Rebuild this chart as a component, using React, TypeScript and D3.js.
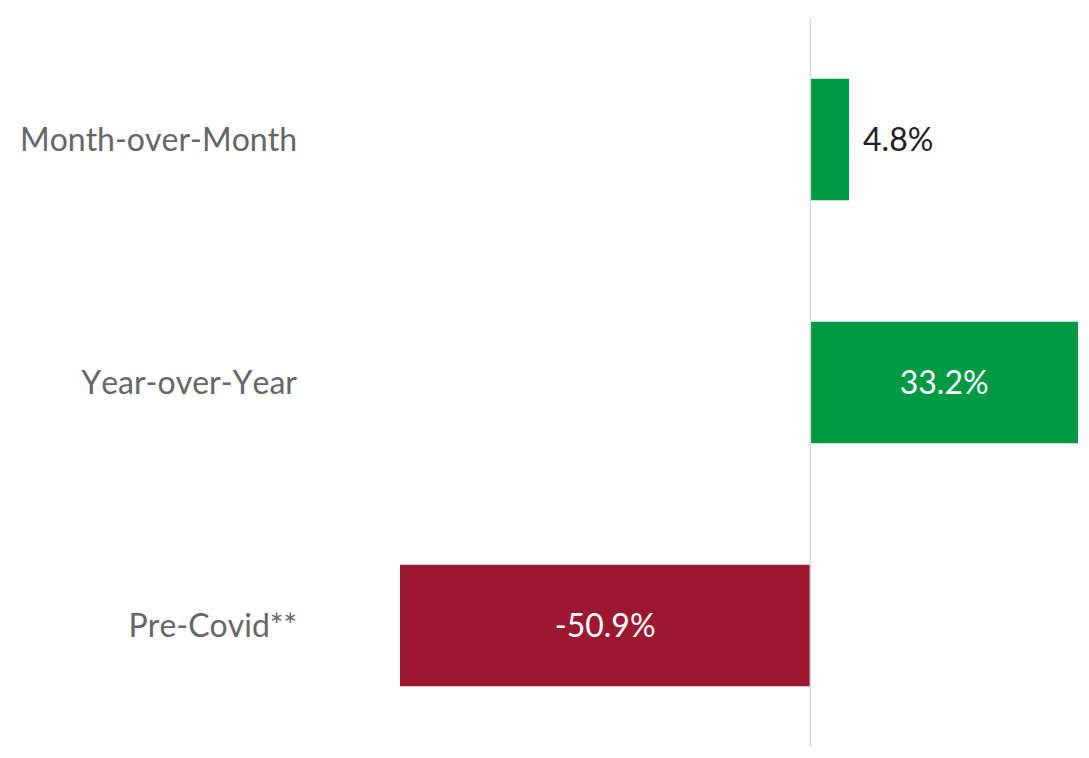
import { scaleLinear, scaleBand } from 'd3';

const WIDTH = 1089;
const HEIGHT = 758;
const GREEN = '#009a44';
const RED = '#9b1830';
const FONT = 'Lato, "Open Sans", sans-serif';
const FONT_SIZE = 32;

const categories = ['Month-over-Month', 'Year-over-Year', 'Pre-Covid**'];
const values = [4.8, 33.2, -50.9];
const valueLabels = ['4.8%', '33.2%', '-50.9%'];
// which labels sit inside the bar (white) vs. just outside it (dark)
const labelInside = [false, true, true];

export default function App() {
  const xScale = scaleLinear().domain([-50.9, 33.2]).range([400, 1078]);
  const yScale = scaleBand<string>()
    .domain(categories)
    .range([18, 747])
    .paddingInner(0.5)
    .paddingOuter(0.25);

  const x0 = xScale(0);
  const bw = yScale.bandwidth();
  const textStyle = { fontKerning: 'none' as const };

  return (
    <div style={{ position: 'absolute', left: 0, top: 0 }}>
      <svg width={WIDTH} height={HEIGHT} style={{ display: 'block', background: '#fff' }}>
        {categories.map((c, i) => {
          const v = values[i];
          const y = yScale(c) ?? 0;
          const xa = xScale(Math.min(0, v));
          const xb = xScale(Math.max(0, v));
          const cy = y + bw / 2 - 1;
          return (
            <g key={c}>
              <rect x={xa} y={y} width={xb - xa} height={bw} fill={v >= 0 ? GREEN : RED} />
              <text
                x={297}
                y={cy}
                textAnchor="end"
                dominantBaseline="central"
                fontFamily={FONT}
                fontSize={FONT_SIZE}
                fill="#666666"
                style={textStyle}
              >
                {c}
              </text>
              {labelInside[i] ? (
                <text
                  x={(xa + xb) / 2}
                  y={cy}
                  textAnchor="middle"
                  dominantBaseline="central"
                  fontFamily={FONT}
                  fontSize={FONT_SIZE}
                  fill="#ffffff"
                  style={textStyle}
                >
                  {valueLabels[i]}
                </text>
              ) : (
                <text
                  x={xb + 14}
                  y={cy}
                  textAnchor="start"
                  dominantBaseline="central"
                  fontFamily={FONT}
                  fontSize={FONT_SIZE}
                  fill="#222222"
                  style={textStyle}
                >
                  {valueLabels[i]}
                </text>
              )}
            </g>
          );
        })}
        <line x1={x0} x2={x0} y1={18} y2={747} stroke="#d9d9d9" strokeWidth={1.5} />
      </svg>
    </div>
  );
}
